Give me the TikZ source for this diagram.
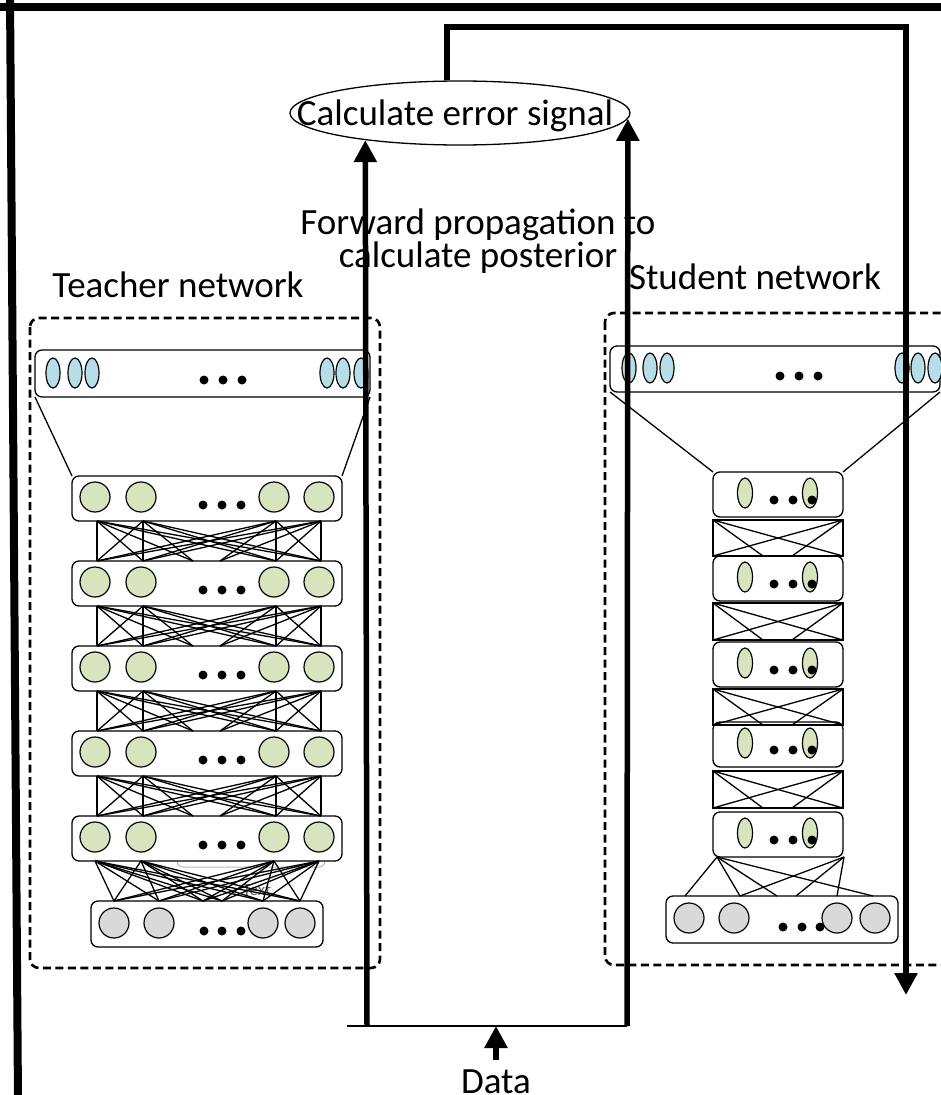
\documentclass[tikz,border=0pt]{standalone}
\usepackage{fontspec}
\setmainfont{Carlito}
\usetikzlibrary{shapes.geometric,arrows.meta,calc}
\definecolor{cellblue}{HTML}{B7DEE8}
\definecolor{cellgreen}{HTML}{D7E4BD}
\definecolor{cellgray}{HTML}{D9D9D9}
\begin{document}
\begin{tikzpicture}[x=1pt,y=-1pt,
  layer/.style={draw, line width=1.3pt, rounded corners=7pt, fill=white, inner sep=0pt, outer sep=0pt},
  wire/.style={line width=1.3pt},
  rcell/.style={circle, draw, line width=1.2pt, minimum size=30pt, inner sep=0pt},
  ocell/.style={ellipse, draw, line width=1.2pt, minimum width=14pt, minimum height=30pt, inner sep=0pt},
  ddot/.style={circle, fill=black, minimum size=9pt, inner sep=0pt},
  netframe/.style={draw, dash pattern=on 8pt off 4.5pt, line width=2.6pt, rounded corners=9pt},
  bigarrow/.style={line width=5.5pt, -{Triangle[length=22pt,width=22pt]}},
  txt/.style={font=\fontsize{37}{30}\selectfont, inner sep=0pt}
]
\useasboundingbox (0,0) rectangle (941,1095);
\clip (0,0) rectangle (941,1095);

% frame lines
\draw[line width=8pt] (-5,7) -- (946,7);
\draw[line width=8pt] (10,-5) -- (18,1100);

% dashed network frames
\draw[netframe] (30,318) rectangle (380,968);
\draw[netframe] (605,313) rectangle (975,965);

% ---------------- teacher network ----------------
\node[txt, anchor=base] (tlabel) at (178,297) {Teacher network};

\node[layer, minimum width=335pt, minimum height=47pt] (tout) at (202.5,373.5) {};
\foreach \k/\x in {1/53,2/75,3/92,4/327,5/343,6/361}
  \node[ocell, fill=cellblue] (toc\k) at (\x,373) {};
\foreach \k/\x in {1/204,2/223,3/242}
  \node[ddot] (tod\k) at (\x,380) {};

% leftover placeholder behind the last hidden layer
\draw[gray!55, line width=1pt, rounded corners=6pt] (177,825) rectangle (325,867);
\node[text=gray!75!black, font=\fontsize{17}{17}\selectfont, inner sep=0pt] (ghost) at (257,890) {Text};

\foreach \i/\cy in {1/498.5,2/583.5,3/668.5,4/753.5,5/838.5}{
  \node[layer, minimum width=270pt, minimum height=45pt] (t\i) at (207,\cy) {};
  \foreach \k/\x in {1/95,2/141,3/274,4/319}
    \node[rcell, fill=cellgreen] (tc\i\k) at (\x,{\cy-1.5}) {};
  \foreach \k/\x in {1/203,2/222,3/241}
    \node[ddot] (td\i\k) at (\x,{\cy+6.5}) {};
}

\node[layer, minimum width=232pt, minimum height=46pt] (tin) at (207,924) {};
\foreach \k/\x in {1/204,2/222,3/241}
  \node[ddot] (tid\k) at (\x,931) {};
\foreach \k/\x in {1/114,2/159,3/263,4/300}
  \node[rcell, fill=cellgray] (tic\k) at (\x,923) {};

% output layer to first hidden layer
\draw[wire] (tout.south west) -- (t1.north west);
\draw[wire] (tout.south east) -- (t1.north east);

% hidden to hidden
\foreach \i [evaluate=\i as \j using int(\i+1)] in {1,2,3,4}{
  \path (t\j.north) ++(-14,0) coordinate (tmL\j) ++(27,0) coordinate (tmR\j);
  \foreach \a in {1,2,3,4}
    \foreach \b in {1,2,3,4}
      \draw[wire] ([xshift=2pt]tc\i\a |- t\i.south) -- ([xshift=2pt]tc\j\b |- t\j.north);
  \foreach \a in {1,2}
    \draw[wire] ([xshift=2pt]tc\i\a |- t\i.south) -- (tmL\j);
  \foreach \a in {3,4}
    \draw[wire] ([xshift=2pt]tc\i\a |- t\i.south) -- (tmR\j);
}

% last hidden layer to input layer
\path (tin.north) ++(-4,0) coordinate (tinL) ++(19,0) coordinate (tinR);
\foreach \a in {1,2,3,4}{
  \foreach \b in {1,2,3,4}
    \draw[wire] (tc5\a |- t5.south) -- (tic\b |- tin.north);
  \draw[wire] (tc5\a |- t5.south) -- (tinL);
  \draw[wire] (tc5\a |- t5.south) -- (tinR);
}

% ---------------- student network ----------------
\node[txt, anchor=base] (slabel) at (755,289) {Student network};

\node[layer, minimum width=330pt, minimum height=46pt] (sout) at (775,369) {};
\foreach \k/\x in {1/629,2/650,3/667,4/902,5/918,6/935}
  \node[ocell, fill=cellblue] (soc\k) at (\x,368) {};
\foreach \k/\x in {1/780,2/799,3/818}
  \node[ddot] (sod\k) at (\x,376) {};

\foreach \i/\cy in {1/494.5,2/578.5,3/664.5,4/744.5,5/834.5}{
  \node[layer, minimum width=130pt, minimum height=45pt] (s\i) at (778,\cy) {};
  \node[ocell, fill=cellgreen, minimum width=15pt] (sc\i1) at (745,{\cy-1.5}) {};
  \node[ocell, fill=cellgreen, minimum width=15pt] (sc\i2) at (810,{\cy-1.5}) {};
  \foreach \k/\x in {1/774,2/793,3/812}
    \node[ddot] (sd\i\k) at (\x,{\cy+5.5}) {};
}

% fully connected blocks between student hidden layers
\foreach \k/\ya/\yb in {1/520/556,2/603/640,3/689/725,4/771/808}{
  \coordinate (ska\k) at (713,\ya);
  \coordinate (skb\k) at (843,\ya);
  \coordinate (skc\k) at (713,\yb);
  \coordinate (skd\k) at (843,\yb);
  \coordinate (ske\k) at (763,\yb);
  \coordinate (skf\k) at (792,\yb);
  \draw[wire] (ska\k) rectangle (skd\k);
  \draw[wire] (ska\k) -- (skd\k);
  \draw[wire] (skb\k) -- (skc\k);
  \draw[wire] (ska\k) -- (ske\k);
  \draw[wire] (skb\k) -- (skf\k);
}

\node[layer, minimum width=232pt, minimum height=47pt] (sin) at (782,919.5) {};
\foreach \k/\x in {1/783,2/802,3/820}
  \node[ddot] (sid\k) at (\x,927) {};
\foreach \k/\x in {1/689,2/734,3/837,4/875}
  \node[rcell, fill=cellgray] (sic\k) at (\x,918) {};

\draw[wire] (sout.south west) -- (s1.north west);
\draw[wire] (sout.south east) -- (s1.north east);

% last student hidden layer to input layer
\path (s5.south west) ++(4,0) coordinate (sl);
\path (s5.south east) ++(1,0) coordinate (sr);
\foreach \k/\dx in {1/-97,2/-42,3/-5,4/14,5/55,6/91}
  \path (sin.north) ++(\dx,0) coordinate (sm\k);
\foreach \k in {1,2,3,6}
  \draw[wire] (sl) -- (sm\k);
\foreach \k in {2,4,5}
  \draw[wire] (sr) -- (sm\k);

% ---------------- training flow ----------------
\node[ellipse, draw, line width=1.3pt, minimum width=340pt, minimum height=64pt, inner sep=0pt, fill=white] (err) at (460,113) {};
\node[txt, anchor=base] (errtext) at (455,125) {Calculate error signal};

\node[txt, align=center] (fwd) at (478,241) {Forward propagation to\\calculate posterior};

\node[txt, anchor=base] (data) at (496,1093) {Data};
\coordinate (dl) at (347,1026);
\coordinate (dr) at (627,1026);
\coordinate (dm) at (496,1026);
\coordinate (aL) at (367,1026);
\coordinate (aR) at (627,1026);
\coordinate (looptop) at (906,27);
\coordinate (loopend) at (906,995);

\draw[line width=1.5pt] (dl) -- (dr);
\draw[bigarrow] ([yshift=33pt]data.base) -- (dm);
\draw[bigarrow] (aL) -- (err.196);
\draw[bigarrow] (aR) -- (err.-2);
\draw[bigarrow] ([xshift=-13pt]err.north) |- (looptop) -- (loopend);
\end{tikzpicture}
\end{document}
